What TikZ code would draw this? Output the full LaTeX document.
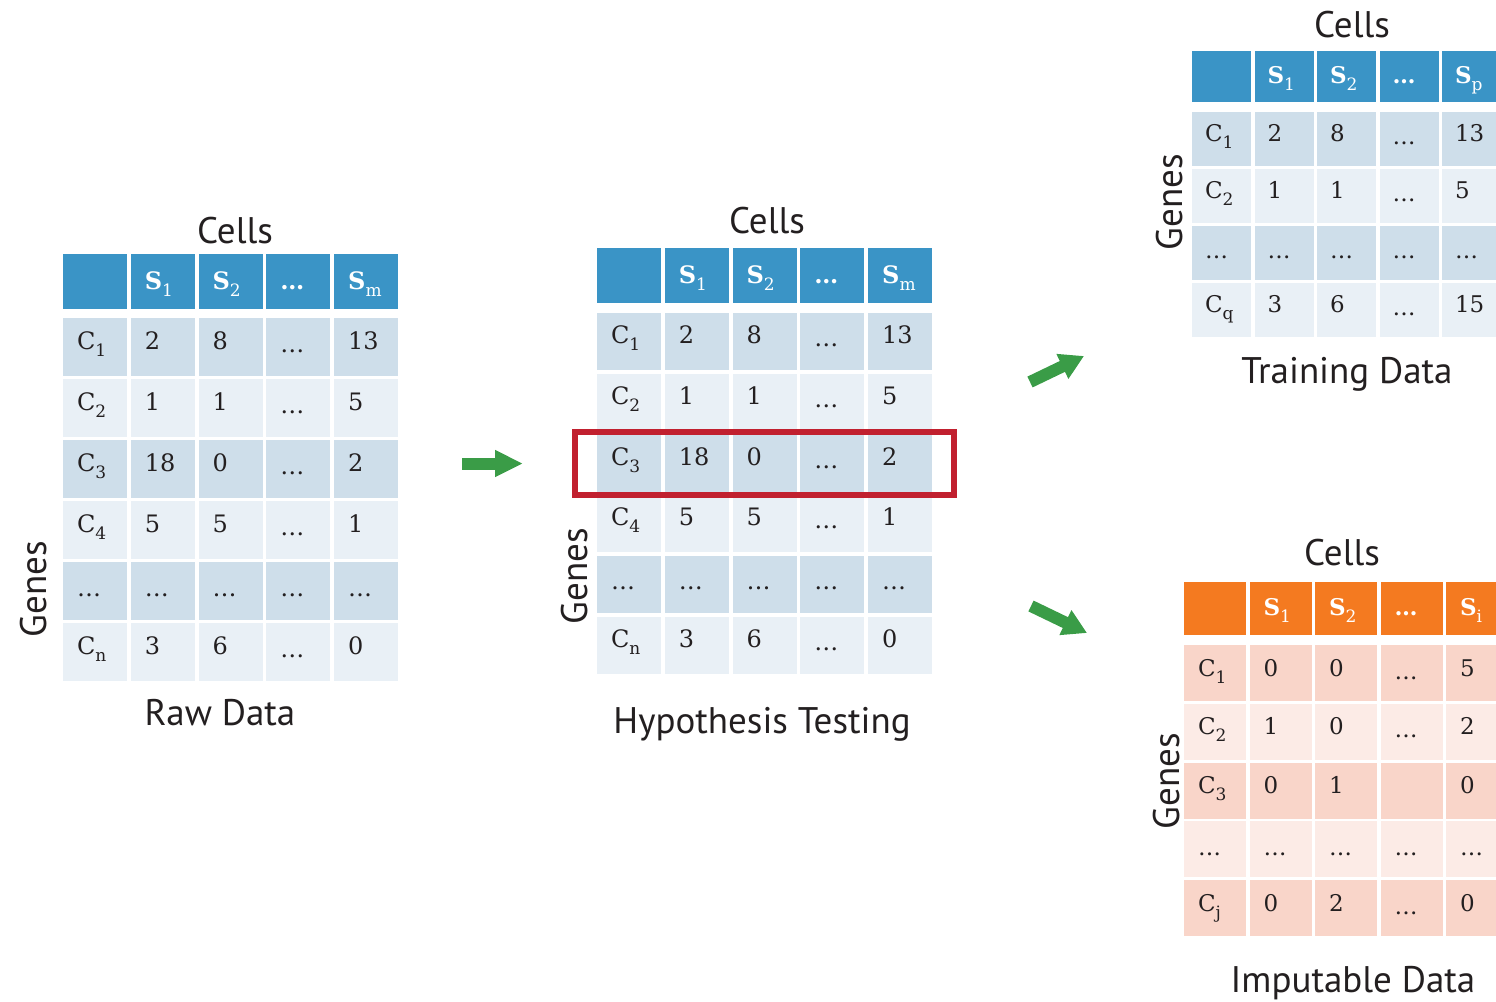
\documentclass[tikz,border=0pt]{standalone}
\usepackage{fontspec}
\setmainfont{DejaVu Serif}
\newfontfamily\labfont{PT Sans}
\usetikzlibrary{arrows.meta,fit}
\definecolor{hblue}{HTML}{3A94C6}
\definecolor{dblue}{HTML}{CEDEEA}
\definecolor{lblue}{HTML}{E9F0F6}
\definecolor{horange}{HTML}{F47A20}
\definecolor{dorange}{HTML}{F9D5C9}
\definecolor{lorange}{HTML}{FCEBE6}
\definecolor{agreen}{HTML}{3A9C47}
\definecolor{hred}{HTML}{C1202F}
\definecolor{ink}{HTML}{231F20}

\newcommand\sbx[1]{\raisebox{-7pt}{\fontsize{17}{17}\selectfont\mdseries #1}}
\newcommand\dt{\raisebox{-3pt}{\ldots}}
\newcommand\tabrow[8]{%
  \node[#3] (#1-1) at (\tbx, #2) {#4};
  \node[#3] (#1-2) at (\tbx+\tbp, #2) {#5};
  \node[#3] (#1-3) at (\tbx+2*\tbp, #2) {#6};
  \node[#3] (#1-4) at (\tbx+3*\tbp, #2) {#7};
  \node[#3] (#1-5) at (\tbx+4*\tbp, #2) {#8};
}

\tikzset{
  cellbase/.style={rectangle, inner ysep=0pt, inner xsep=\tbpad, outer sep=0pt,
    minimum width=\tbw, text width=\tbtw, align=left, anchor=north west,
    text=ink, font=\tbfont, text height=17pt},
  hdrB/.style={cellbase, fill=hblue, text=white, font=\tbfont\bfseries,
    minimum height=\tbhh, text depth=\tbhdep},
  drkB/.style={cellbase, fill=dblue, minimum height=\tbh, text depth=\tbdep},
  lgtB/.style={cellbase, fill=lblue, minimum height=\tbh, text depth=\tbdep},
  hdrO/.style={cellbase, fill=horange, text=white, font=\tbfont\bfseries,
    minimum height=\tbhh, text depth=\tbhdep},
  drkO/.style={cellbase, fill=dorange, minimum height=\tbh, text depth=\tbdep},
  lgtO/.style={cellbase, fill=lorange, minimum height=\tbh, text depth=\tbdep},
  lab/.style={font=\labfont\fontsize{37}{41}\selectfont, text=ink, inner sep=0pt, anchor=base},
  genes/.style={lab, rotate=90},
  garrow/.style={draw=agreen, line width=12pt, -{Triangle[length=28pt,width=25pt]}},
  redbox/.style={draw=hred, line width=6pt, inner xsep=22pt, inner ysep=3pt}
}

\begin{document}
\begin{tikzpicture}[x=1pt,y=-1pt]
\useasboundingbox (0,0) rectangle (1496,1001);
\clip (0,0) rectangle (1496,1001);

% ---------- Table A: Raw Data ----------
\def\tbx{63}\def\tbp{67.8}\def\tbw{64}\def\tbtw{36pt}\def\tbpad{14pt}
\def\tbh{58}\def\tbhh{55}\def\tbdep{13pt}\def\tbhdep{2pt}
\def\tbfont{\fontsize{24}{28}\selectfont}
\tabrow{A0}{254}{hdrB}{}{S\sbx{1}}{S\sbx{2}}{\ldots}{S\sbx{m}}
\tabrow{A1}{318}{drkB}{C\sbx{1}}{2}{8}{\dt}{13}
\tabrow{A2}{379}{lgtB}{C\sbx{2}}{1}{1}{\dt}{5}
\tabrow{A3}{440}{drkB}{C\sbx{3}}{18}{0}{\dt}{2}
\tabrow{A4}{501}{lgtB}{C\sbx{4}}{5}{5}{\dt}{1}
\tabrow{A5}{562}{drkB}{\dt}{\dt}{\dt}{\dt}{\dt}
\tabrow{A6}{623}{lgtB}{C\sbx{n}}{3}{6}{\dt}{0}
\node[lab] (Acells) at (235,243) {Cells};
\node[lab] (Araw) at (220,725) {Raw Data};
\node[genes] (Agenes) at (46,589) {Genes};

% ---------- Table B: Hypothesis Testing ----------
\def\tbx{597}\def\tbh{57}
\tabrow{B0}{248}{hdrB}{}{S\sbx{1}}{S\sbx{2}}{\ldots}{S\sbx{m}}
\tabrow{B1}{313}{drkB}{C\sbx{1}}{2}{8}{\dt}{13}
\tabrow{B2}{373.8}{lgtB}{C\sbx{2}}{1}{1}{\dt}{5}
\tabrow{B3}{434.6}{drkB}{C\sbx{3}}{18}{0}{\dt}{2}
\tabrow{B4}{495.4}{lgtB}{C\sbx{4}}{5}{5}{\dt}{1}
\tabrow{B5}{556.2}{drkB}{\dt}{\dt}{\dt}{\dt}{\dt}
\tabrow{B6}{617}{lgtB}{C\sbx{n}}{3}{6}{\dt}{0}
\node[redbox, fit=(B3-1)(B3-5)] (hl) {};
\node[lab] (Bcells) at (767,233) {Cells};
\node[lab] (Bhyp) at (762,733) {Hypothesis Testing};
\node[genes] (Bgenes) at (587,576) {Genes};

% ---------- Table C: Training Data ----------
\def\tbx{1192}\def\tbp{62.5}\def\tbw{59}\def\tbtw{33pt}\def\tbpad{13pt}
\def\tbh{54}\def\tbhh{51}\def\tbdep{12pt}\def\tbhdep{4pt}
\def\tbfont{\fontsize{23}{27}\selectfont}
\tabrow{C0}{51}{hdrB}{}{S\sbx{1}}{S\sbx{2}}{\ldots}{S\sbx{p}}
\tabrow{C1}{112}{drkB}{C\sbx{1}}{2}{8}{\dt}{13}
\tabrow{C2}{169}{lgtB}{C\sbx{2}}{1}{1}{\dt}{5}
\tabrow{C3}{226}{drkB}{\dt}{\dt}{\dt}{\dt}{\dt}
\tabrow{C4}{283}{lgtB}{C\sbx{q}}{3}{6}{\dt}{15}
\node[lab] (Ccells) at (1352,37) {Cells};
\node[lab] (Ctrain) at (1347,383) {Training Data};
\node[genes] (Cgenes) at (1182,202) {Genes};

% ---------- Table D: Imputable Data ----------
\def\tbx{1184}\def\tbp{65.5}\def\tbw{62}\def\tbtw{34pt}\def\tbpad{14pt}
\def\tbh{56}\def\tbhh{53}\def\tbdep{11pt}\def\tbhdep{4pt}
\tabrow{D0}{582}{hdrO}{}{S\sbx{1}}{S\sbx{2}}{\ldots}{S\sbx{i}}
\tabrow{D1}{645}{drkO}{C\sbx{1}}{0}{0}{\dt}{5}
\tabrow{D2}{703.8}{lgtO}{C\sbx{2}}{1}{0}{\dt}{2}
\tabrow{D3}{762.6}{drkO}{C\sbx{3}}{0}{1}{}{0}
\tabrow{D4}{821.4}{lgtO}{\dt}{\dt}{\dt}{\dt}{\dt}
\tabrow{D5}{880.2}{drkO}{C\sbx{j}}{0}{2}{\dt}{0}
\node[lab] (Dcells) at (1342,565) {Cells};
\node[lab] (Dimp) at (1353,992) {Imputable Data};
\node[genes] (Dgenes) at (1179,781) {Genes};

% ---------- arrows ----------
\coordinate (a1s) at (462,463.5);
\coordinate (a1e) at (523,463.5);
\coordinate (a2s) at (1030,382);
\coordinate (a2e) at (1084,356);
\coordinate (a3s) at (1031,606);
\coordinate (a3e) at (1087,633);
\draw[garrow] (a1s) -- (a1e);
\draw[garrow, -{Triangle[length=24pt,width=26pt]}] (a2s) -- (a2e);
\draw[garrow, -{Triangle[length=24pt,width=26pt]}] (a3s) -- (a3e);
\end{tikzpicture}
\end{document}
